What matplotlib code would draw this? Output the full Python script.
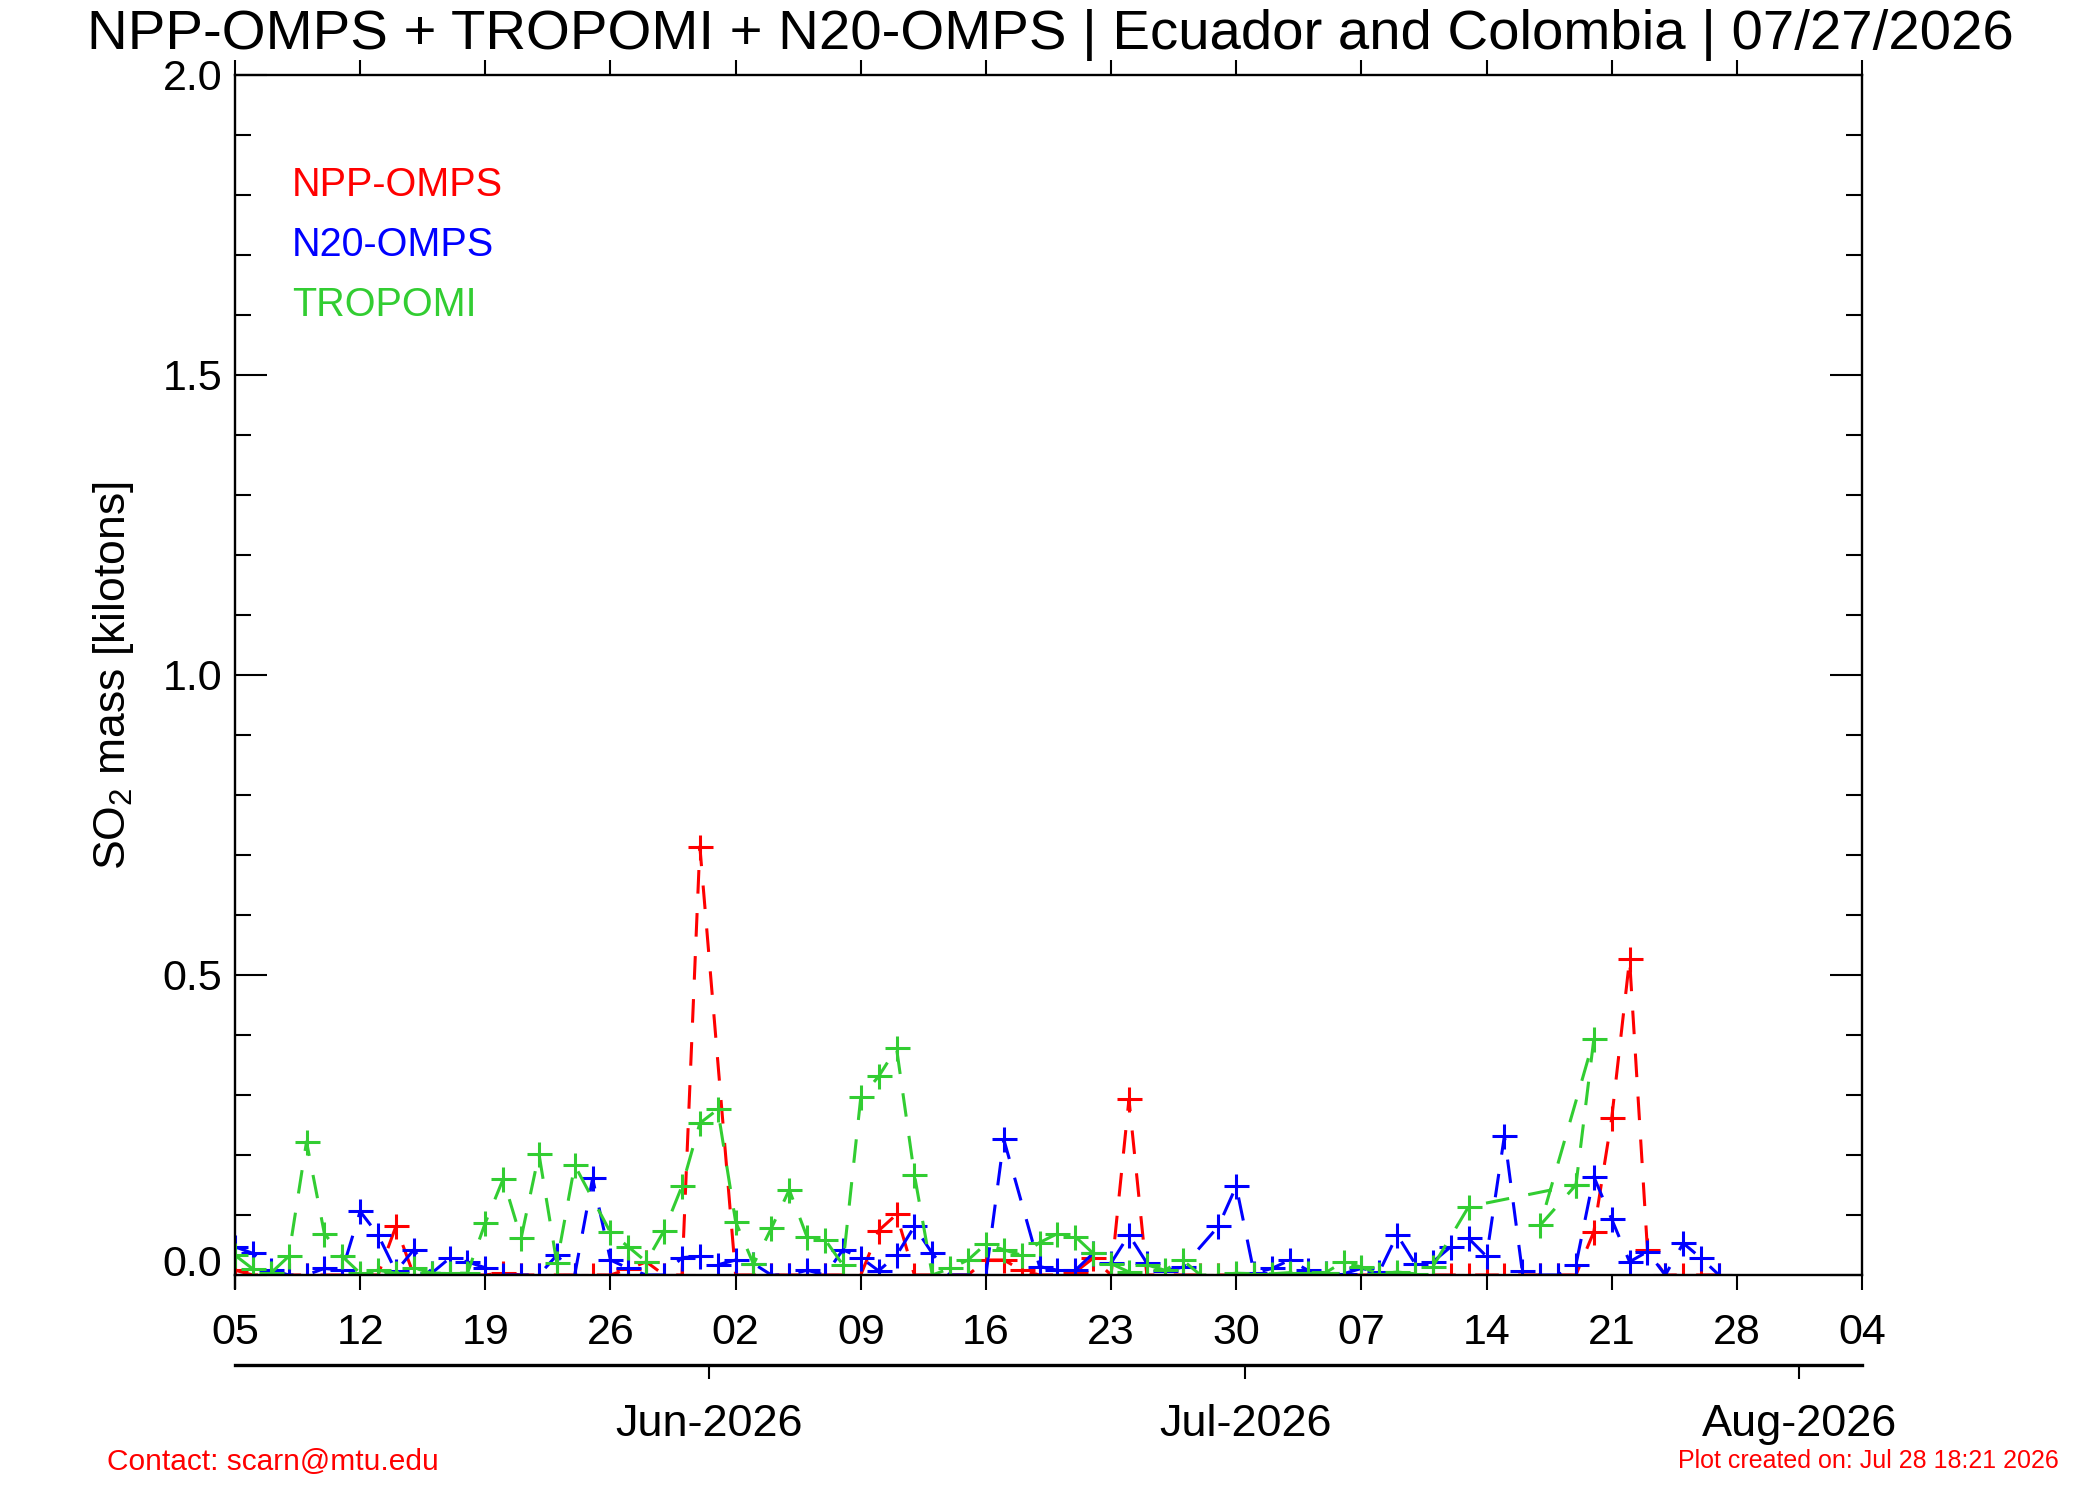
import matplotlib
matplotlib.use("Agg")
import matplotlib.pyplot as plt
import matplotlib.dates as mdates
import numpy as np
import pandas as pd
from matplotlib.ticker import MultipleLocator, FormatStrFormatter
from matplotlib.transforms import ScaledTranslation

plt.rcParams["font.family"] = ["Liberation Sans", "DejaVu Sans"]
plt.rcParams["mathtext.fontset"] = "custom"
plt.rcParams["mathtext.rm"] = "Liberation Sans"
plt.rcParams["lines.scale_dashes"] = False

START = pd.Timestamp("2026-05-05")
END = pd.Timestamp("2026-08-04")

# ── data: day offsets from START and SO2 mass [kt] ──────────────────
npp_days = list(range(0, 27)) + list(range(28, 84))
npp_vals = [0.008, 0, 0, 0, 0, 0, 0, 0, 0, 0.081,           # 0-9
            0, 0, 0, 0, 0, 0.004, 0, 0, 0, 0,               # 10-19
            0, 0, 0.010, 0.022, 0, 0, 0.714,                # 20-26
            0, 0, 0, 0, 0, 0, 0, 0, 0.074, 0.101,           # 28-37
            0, 0, 0, 0, 0.025, 0.025, 0.008, 0, 0, 0.005,   # 38-47
            0.028, 0, 0.293, 0, 0, 0, 0, 0, 0, 0,           # 48-57
            0, 0, 0, 0, 0, 0, 0, 0, 0, 0,                   # 58-67
            0, 0, 0, 0, 0, 0, 0, 0, 0.072, 0.261,           # 68-77
            0.526, 0.042, 0, 0, 0, 0]                       # 78-83

n20_days = list(range(0, 44)) + list(range(45, 54)) + list(range(55, 84))
n20_vals = [0.047, 0.036, 0.009, 0, 0, 0.011, 0.008, 0.106, 0.067, 0.006,
            0.042, 0.003, 0.028, 0.022, 0.012, 0, 0, 0, 0.033, 0,
            0.161, 0.025, 0.011, 0, 0, 0.029, 0.031, 0.017, 0.025, 0.019,
            0, 0, 0.008, 0, 0.042, 0.029, 0.007, 0.033, 0.081, 0.036,
            0, 0, 0, 0.226,
            0.014, 0.008, 0.008, 0.036, 0.020, 0.067, 0.020, 0.007, 0.013,
            0.081, 0.148, 0.003, 0.011, 0.025, 0.008, 0.003, 0.002, 0.011, 0.005,
            0.067, 0.019, 0.022, 0.047, 0.061, 0.031, 0.232, 0.006, 0, 0,
            0.017, 0.164, 0.093, 0.022, 0.039, 0, 0.053, 0.028, 0]

# TROPOMI records are not strictly in time order at the end of the file
tropomi_days = list(range(0, 20)) + list(range(21, 68)) + [69, 75, 76, 73, 75]
tropomi_vals = [0.033, 0.010, 0.003, 0.031, 0.222, 0.069, 0.031, 0.003, 0.008, 0.003,
                0.012, 0.003, 0.003, 0.003, 0.087, 0.160, 0.061, 0.202, 0.020, 0.183,
                0.071, 0.047, 0.022, 0.074, 0.148, 0.253, 0.276, 0.089, 0.018, 0.078,
                0.142, 0.063, 0.059, 0.017, 0.296, 0.331, 0.378, 0.167, 0, 0.011,
                0.025, 0.052, 0.042, 0.033, 0.054, 0.069, 0.064, 0.036, 0.019, 0.005,
                0.017, 0.008, 0.025, 0, 0, 0.003, 0.002, 0.002, 0.004, 0.004,
                0.004, 0.022, 0.013, 0.002, 0.005, 0.002, 0.014,
                0.114, 0.150, 0.393, 0.083, 0.150]

SERIES = [
    ("NPP-OMPS", npp_days, npp_vals, "#FF0000"),
    ("N20-OMPS", n20_days, n20_vals, "#0000FF"),
    ("TROPOMI", tropomi_days, tropomi_vals, "#32CD32"),
]


def to_dates(days):
    return START + pd.to_timedelta(days, unit="D")


fig = plt.figure(figsize=(21, 15), dpi=100)
left, width = 235 / 2100, (1862 - 235) / 2100
ax = fig.add_axes([left, 1 - 1275 / 1500, width, 1200 / 1500])

for name, days, vals, color in SERIES:
    ax.plot(to_dates(days), vals, color=color, lw=2.2, dashes=(17, 14),
            marker="+", ms=18, mew=2.2)

ax.set_xlim(START, END)
ax.set_ylim(0, 2.0)

# x axis: weekly day ticks, outward on top and bottom
week_ticks = pd.date_range(START, END, freq="7D")
ax.set_xticks(mdates.date2num(week_ticks))
ax.xaxis.set_major_formatter(mdates.DateFormatter("%d"))
ax.tick_params(axis="x", which="major", direction="out", length=11, width=1.5,
               top=True, labelsize=31, pad=16)

# y axis
ax.set_yticks(np.arange(0, 2.01, 0.5))
ax.yaxis.set_major_formatter(FormatStrFormatter("%.1f"))
ax.yaxis.set_minor_locator(MultipleLocator(0.1))
ax.tick_params(axis="y", which="major", direction="in", length=23, width=1.5,
               right=True, labelsize=31, pad=9)
ax.tick_params(axis="y", which="minor", direction="in", length=11.5, width=1.5,
               right=True)
for sp in ax.spines.values():
    sp.set_linewidth(1.7)
ax.plot([0, 0], [0, -13 / 1200], transform=ax.transAxes, color="black",
        lw=1.7, clip_on=False)

zero_lbl = ax.get_yticklabels()[0]
zero_lbl.set_transform(zero_lbl.get_transform()
                       + ScaledTranslation(0, 0.15, fig.dpi_scale_trans))

# legend as coloured text
leg_x = START + pd.Timedelta(days=3.2)
for (name, _, _, color), y in zip(SERIES, [1.816, 1.716, 1.616]):
    ax.text(leg_x, y, name, color=color, fontsize=28.5, va="center", ha="left")

# month axis underneath (month ticks sit half a day before the day ticks)
ax2 = fig.add_axes([left, 1 - 1365 / 1500, width, 0.001])
ax2.patch.set_visible(False)
for side in ["top", "left", "right"]:
    ax2.spines[side].set_visible(False)
ax2.spines["bottom"].set_linewidth(2.4)
ax2.set_xlim(START, END)
ax2.set_yticks([])
month_ticks = pd.to_datetime(["2026-05-31 12:00", "2026-06-30 12:00", "2026-07-31 12:00"])
ax2.set_xticks(mdates.date2num(month_ticks))
ax2.set_xticklabels(["Jun-2026", "Jul-2026", "Aug-2026"])
ax2.tick_params(axis="x", direction="out", length=10, width=1.5,
                labelsize=32.5, pad=18)

fig.text(0.5, 1 - 35 / 1500,
         "NPP-OMPS + TROPOMI + N20-OMPS | Ecuador and Colombia | 07/27/2026",
         ha="center", va="center", fontsize=40.6)
fig.text(114 / 2100, 1 - 676 / 1500, "SO$_2$ mass [kilotons]", rotation=90,
         ha="center", va="center", fontsize=32)
fig.text(107 / 2100, 1 - 1462 / 1500, "Contact: scarn@mtu.edu", color="#FF0000",
         fontsize=21.5, ha="left", va="center")
fig.text(2059 / 2100, 1 - 1461 / 1500, "Plot created on: Jul 28 18:21 2026",
         color="#FF0000", fontsize=18, ha="right", va="center")

fig.savefig("out.png", dpi=100)
